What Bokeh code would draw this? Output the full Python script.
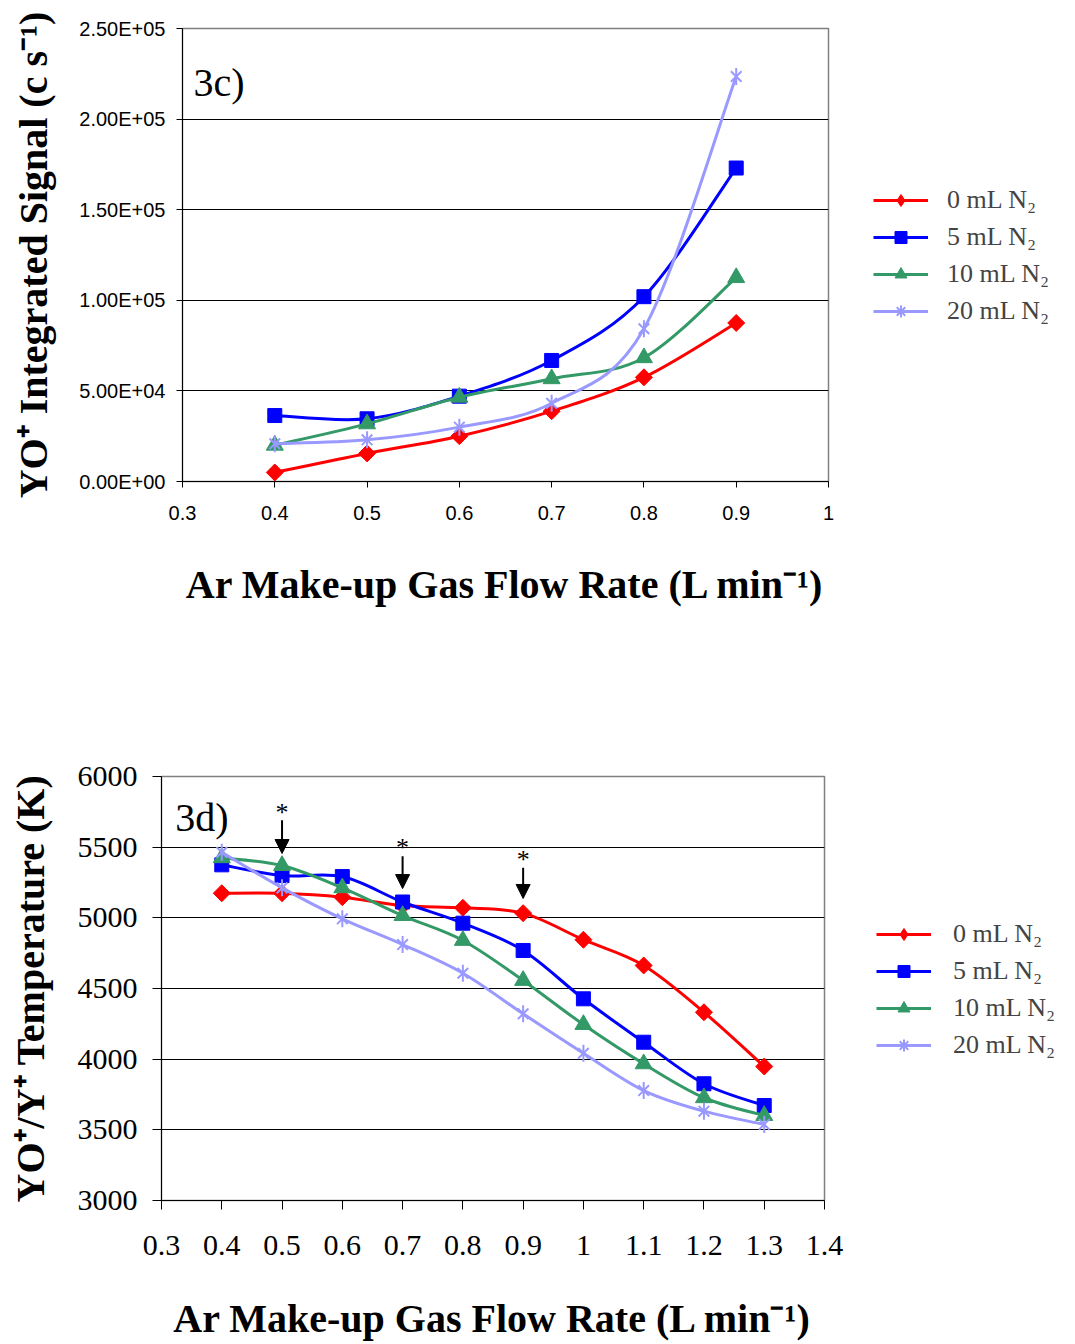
import math
from bokeh.plotting import figure
from bokeh.layouts import column, row
from bokeh.models import FixedTicker, Legend, LegendItem, Arrow, NormalHead, Label
from bokeh.embed import file_html
from bokeh.resources import INLINE
from bokeh.core.properties import value

# ---------------- data ----------------
series_names = ["0 mL N\u2082", "5 mL N\u2082", "10 mL N\u2082", "20 mL N\u2082"]
series_colors = ["#FF0000", "#0000FF", "#339966", "#9999FF"]
legend_markers = ["diamond", "square", "triangle", "asterisk"]

flow_c = [0.4, 0.5, 0.6, 0.7, 0.8, 0.9]
signal_0 = [5000, 15500, 25000, 38800, 57500, 87500]
signal_5 = [36400, 34600, 47100, 66800, 102000, 173000]
signal_10 = [20000, 31800, 46500, 56700, 68300, 112500]
signal_20 = [20800, 23000, 30000, 43200, 84300, 223500]

flow_d = [0.4, 0.5, 0.6, 0.7, 0.8, 0.9, 1.0, 1.1, 1.2, 1.3]
temp_0 = [5174, 5174, 5146, 5087, 5071, 5033, 4845, 4663, 4332, 3948]
temp_5 = [5375, 5299, 5292, 5112, 4962, 4769, 4427, 4120, 3826, 3672]
temp_10 = [5425, 5370, 5212, 5016, 4840, 4557, 4245, 3967, 3727, 3601]
temp_20 = [5464, 5212, 4993, 4811, 4608, 4321, 4042, 3778, 3632, 3538]

xticks_c = [0.3, 0.4, 0.5, 0.6, 0.7, 0.8, 0.9, 1.0]
xlabels_c = ["0.3", "0.4", "0.5", "0.6", "0.7", "0.8", "0.9", "1"]
yticks_c = [0, 50000, 100000, 150000, 200000, 250000]
ylabels_c = ["0.00E+00", "5.00E+04", "1.00E+05", "1.50E+05", "2.00E+05", "2.50E+05"]

xticks_d = [0.3, 0.4, 0.5, 0.6, 0.7, 0.8, 0.9, 1.0, 1.1, 1.2, 1.3, 1.4]
xlabels_d = ["0.3", "0.4", "0.5", "0.6", "0.7", "0.8", "0.9", "1", "1.1", "1.2", "1.3", "1.4"]
yticks_d = [3000, 3500, 4000, 4500, 5000, 5500, 6000]
ylabels_d = ["3000", "3500", "4000", "4500", "5000", "5500", "6000"]

# significance markers (flow values) in 3d
star_flows = [0.5, 0.7, 0.9]

SERIF = "Liberation Serif"
SANS = "Liberation Sans"
NAN = float("nan")


def smooth_segments(xs, ys):
    """Bezier control points for a smoothed (Catmull-Rom style) line through the data."""
    n = len(xs)
    d = dict(x0=[], y0=[], x1=[], y1=[], cx0=[], cy0=[], cx1=[], cy1=[])
    for i in range(n - 1):
        a = i - 1 if i > 0 else i
        b = i + 2 if i + 2 < n else i + 1
        d["x0"].append(xs[i]); d["y0"].append(ys[i])
        d["x1"].append(xs[i + 1]); d["y1"].append(ys[i + 1])
        d["cx0"].append(xs[i] + (xs[i + 1] - xs[a]) / 6.0)
        d["cy0"].append(ys[i] + (ys[i + 1] - ys[a]) / 6.0)
        d["cx1"].append(xs[i + 1] - (xs[b] - xs[i]) / 6.0)
        d["cy1"].append(ys[i + 1] - (ys[b] - ys[i]) / 6.0)
    return d


def add_series(p, xs, ys, k):
    color = series_colors[k]
    p.bezier(line_color=color, line_width=3, **smooth_segments(xs, ys))
    if k == 0:
        p.scatter(xs, ys, marker="square", angle=math.pi / 4, size=12,
                  fill_color=color, line_color=color)
    elif k == 1:
        p.scatter(xs, ys, marker="square", size=14, fill_color=color, line_color=color)
    elif k == 2:
        p.scatter(xs, ys, marker="triangle", size=17, fill_color=color, line_color=color)
    else:
        p.scatter(xs, ys, marker="x", size=15, line_color=color, line_width=2)
        p.scatter(xs, ys, marker="dash", angle=math.pi / 2, size=17,
                  line_color=color, line_width=2)


def style(p, tick_font, tick_size, tick_standoff_x, tick_standoff_y, tick_out,
          label_standoff_x, label_standoff_y):
    p.background_fill_color = "white"
    p.border_fill_color = "white"
    p.outline_line_color = "#808080"
    p.outline_line_width = 1.5
    p.xgrid.visible = False
    p.ygrid.grid_line_color = "black"
    p.ygrid.grid_line_width = 1
    for ax in (p.xaxis[0], p.yaxis[0]):
        ax.axis_line_color = "black"
        ax.axis_line_width = 1
        ax.major_tick_in = 0
        ax.major_tick_out = tick_out
        ax.major_tick_line_color = "black"
        ax.minor_tick_line_color = None
        ax.major_label_text_font = tick_font
        ax.major_label_text_font_size = tick_size
        ax.major_label_text_color = "black"
        ax.axis_label_text_font = SERIF
        ax.axis_label_text_font_style = "bold"
        ax.axis_label_text_font_size = "40px"
        ax.axis_label_text_color = "black"
    p.xaxis[0].major_label_standoff = tick_standoff_x
    p.yaxis[0].major_label_standoff = tick_standoff_y
    p.xaxis[0].axis_label_standoff = label_standoff_x
    p.yaxis[0].axis_label_standoff = label_standoff_y


def legend_figure(width, height, loc, standoff):
    lf = figure(width=width, height=height, x_range=(0, 1), y_range=(0, 1),
                x_axis_location=None, y_axis_location=None,
                output_backend="svg", toolbar_location=None, min_border=0)
    lf.outline_line_color = None
    lf.xgrid.visible = False
    lf.ygrid.visible = False
    lf.background_fill_color = "white"
    lf.border_fill_color = "white"
    items = []
    for k in range(4):
        c = series_colors[k]
        ln = lf.line(x=[NAN], y=[NAN], line_color=c, line_width=3)
        if legend_markers[k] == "asterisk":
            mk = lf.scatter(x=[NAN], y=[NAN], marker="asterisk", line_color=c, line_width=2)
        else:
            mk = lf.scatter(x=[NAN], y=[NAN], marker=legend_markers[k],
                            fill_color=c, line_color=c)
        items.append(LegendItem(label=series_names[k], renderers=[ln, mk]))
    leg = Legend(items=items, location=loc, padding=0, margin=0, spacing=7,
                 glyph_width=55, glyph_height=30, label_height=30, label_standoff=standoff,
                 label_text_font=SERIF, label_text_font_size="26px",
                 border_line_alpha=0, background_fill_alpha=0)
    lf.add_layout(leg, "center")
    return lf


# ---------------- chart 3c ----------------
p1 = figure(width=840, height=700, x_range=(0.3, 1.0), y_range=(0, 250000),
            output_backend="svg", toolbar_location=None,
            min_border_left=182, min_border_right=12, min_border_top=28, min_border_bottom=219)
p1.xaxis.ticker = FixedTicker(ticks=xticks_c)
p1.xaxis.major_label_overrides = dict(zip(xticks_c, xlabels_c))
p1.yaxis.ticker = FixedTicker(ticks=yticks_c)
p1.yaxis.major_label_overrides = dict(zip(yticks_c, ylabels_c))
p1.xaxis.axis_label = "Ar Make-up Gas Flow Rate (L min\u207b\u00b9)"
p1.yaxis.axis_label = "YO\u207a Integrated Signal (c s\u207b\u00b9)"
style(p1, SANS, "20px", 18, 11, 6, 39, 20)

for k, s in enumerate([signal_0, signal_5, signal_10, signal_20]):
    add_series(p1, flow_c, s, k)
p1.add_layout(Label(x=0.312, y=220000, text="3c)", text_font=SERIF, text_font_size="40px",
                    text_baseline="middle", text_color="black"))
# the legend strip's frame is aligned with the chart frame (rows align frames)
lf1 = legend_figure(235, 700, (33, 155), 19)

# ---------------- chart 3d ----------------
p2 = figure(width=850, height=644, x_range=(0.3, 1.4), y_range=(3000, 6000),
            output_backend="svg", toolbar_location=None,
            min_border_left=161, min_border_right=26, min_border_top=76, min_border_bottom=144)
p2.xaxis.ticker = FixedTicker(ticks=xticks_d)
p2.xaxis.major_label_overrides = dict(zip(xticks_d, xlabels_d))
p2.yaxis.ticker = FixedTicker(ticks=yticks_d)
p2.yaxis.major_label_overrides = dict(zip(yticks_d, ylabels_d))
p2.xaxis.axis_label = "Ar Make-up Gas Flow Rate (L min\u207b\u00b9)"
p2.yaxis.axis_label = "YO\u207a/Y\u207a Temperature (K)"
style(p2, SERIF, "30px", 26, 15, 9, 38, 22)

for k, s in enumerate([temp_0, temp_5, temp_10, temp_20]):
    add_series(p2, flow_d, s, k)
p2.add_layout(Label(x=0.323, y=5710, text="3d)", text_font=SERIF, text_font_size="40px",
                    text_baseline="middle", text_color="black"))

arrow_tail = [5690, 5435, 5355]
arrow_head = [5455, 5207, 5137]
star_y = [5745, 5500, 5415]
for fx, yt, yh in zip(star_flows, arrow_tail, arrow_head):
    p2.add_layout(Arrow(end=NormalHead(size=14, fill_color="black", line_color="black"),
                        x_start=fx, y_start=yt, x_end=fx, y_end=yh,
                        line_color="black", line_width=2))
p2.text(x=star_flows, y=star_y, text=["*"] * 3, text_font=value(SERIF),
        text_font_size="26px", text_align="center", text_baseline="alphabetic",
        text_color="black")
lf2 = legend_figure(225, 644, (26, 140), 22)

layout = column(row(p1, lf1), row(p2, lf2))
open("out.html", "w").write(file_html(layout, INLINE))
